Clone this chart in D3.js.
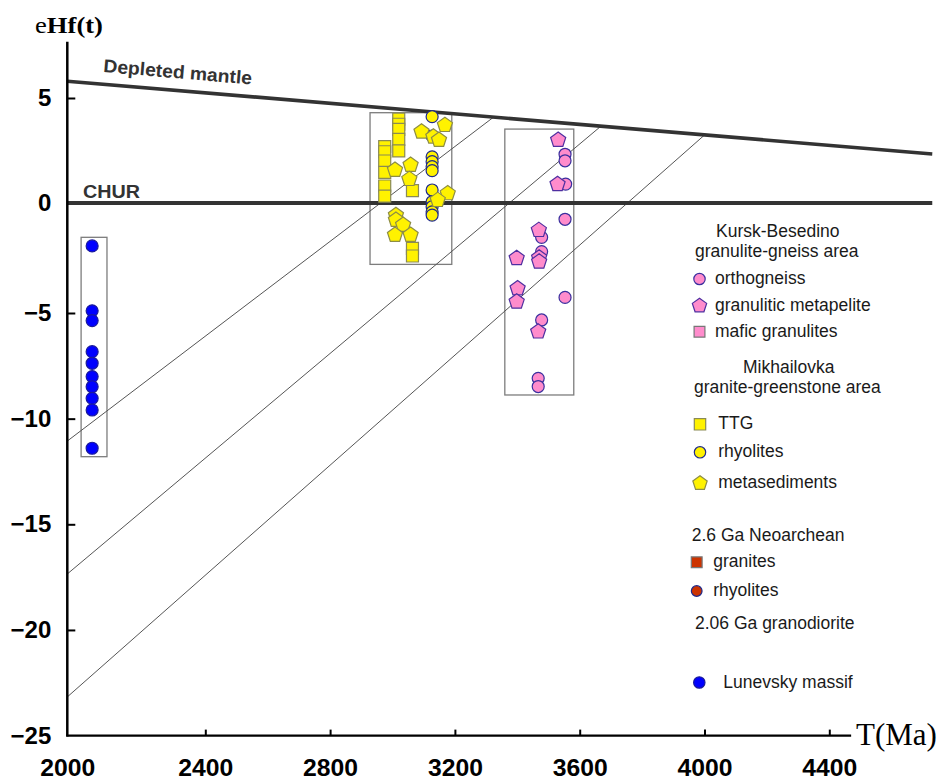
<!DOCTYPE html>
<html>
<head>
<meta charset="utf-8">
<script src="https://cdn.jsdelivr.net/npm/d3@7"></script>
<style>
  html, body { margin: 0; padding: 0; background: #fff; }
  svg { display: block; }
</style>
</head>
<body>
<svg id="chart" width="940" height="782"></svg>
<script>
// ---- Axis ticks ----
const xTicks = [2000, 2400, 2800, 3200, 3600, 4000, 4400];
const yTicks = [5, 0, -5, -10, -15, -20, -25];

// ---- Reference curves: [T (Ma), eHf(t)] ----
const depletedMantle = [[2000, 5.8], [4730, 2.33]];
const chur = [[2000, 0], [4730, 0]];
const crustalTrendA = [[2000, -11.06], [3325, 4.10]];
const crustalTrendB = [[2000, -17.35], [3669, 3.67]];
const crustalTrendC = [[2000, -23.17], [4001, 3.25]];

// ---- Range boxes: [T min, T max, eHf max, eHf min] ----
const lunevskyBox = [2040, 2115, -1.56, -11.8];
const mikhailovkaBox = [2928, 3190, 4.30, -2.79];
const kurskBox = [3360, 3581, 3.52, -8.88];

// ---- Samples: [T (Ma), eHf(t)] ----
const lunevsky = [
  [2072, -1.95], [2072, -4.90], [2072, -5.36], [2072, -6.83], [2072, -7.38],
  [2072, -8.01], [2072, -8.49], [2072, -9.04], [2072, -9.59], [2072, -11.40]
];
const ttg = [
  [3020, 3.99], [3020, 3.75], [3020, 3.51], [3020, 3.03], [3020, 2.48],
  [2975, 2.68], [2975, 2.44], [2975, 2.00], [2975, 1.46], [2975, 0.81], [2975, 0.33],
  [3064, 0.59], [3064, -2.06], [3064, -2.41]
];
const mikhRhyolites = [
  [3127, 4.11], [3127, 3.19], [3127, 2.20], [3127, 1.97], [3127, 1.73], [3127, 1.54],
  [3127, 0.62], [3127, 0.06], [3127, -0.17], [3127, -0.40], [3127, -0.55]
];
const metasediments = [
  [3168, 3.71], [3093, 3.40], [3131, 3.16], [3149, 3.00], [3008, 1.57], [3058, 1.81],
  [3054, 1.14], [3177, 0.46], [3145, 0.14], [3011, -0.55], [3011, -0.77], [3034, -1.00],
  [3008, -1.45], [3058, -1.45]
];
const orthogneiss = [
  [3553, 2.32], [3553, 2.01], [3555, 0.90], [3553, -0.74], [3478, -1.56],
  [3478, -2.21], [3553, -4.29], [3478, -5.33], [3467, -8.09], [3467, -8.48]
];
const metapelite = [
  [3531, 3.00], [3529, 0.90], [3469, -1.23], [3398, -2.51], [3470, -2.49],
  [3470, -2.67], [3401, -3.88], [3398, -4.49], [3467, -5.88]
];

// ---- Legend text ----
const legendKursk = ["Kursk-Besedino", "granulite-gneiss area"];
const legendKurskItems = [["orthogneiss", "orthogneiss"], ["metapelite", "granulitic metapelite"], ["mafic", "mafic granulites"]];
const legendMikh = ["Mikhailovka", "granite-greenstone area"];
const legendMikhItems = [["ttg", "TTG"], ["rhyolite", "rhyolites"], ["metased", "metasediments"]];
const legendNeo = "2.6 Ga Neoarchean";
const legendNeoItems = [["neoGranite", "granites"], ["neoRhyolite", "rhyolites"]];
const legendGranodiorite = "2.06 Ga granodiorite";
const legendLunevsky = [["lunevsky", "Lunevsky massif"]];

// ---- Marker styles ----
const PINK = "#ff8ccc", YELLOW = "#fff200", RED = "#cc3300", BLUE = "#0000ff";
const symbolPentagon = {
  draw(ctx, size) {
    const r = Math.sqrt(size / (2.5 * Math.sin(2 * Math.PI / 5)));
    for (let i = 0; i < 5; i++) {
      const a = -Math.PI / 2 + i * 2 * Math.PI / 5;
      const px = r * Math.cos(a), py = r * Math.sin(a);
      if (i === 0) ctx.moveTo(px, py); else ctx.lineTo(px, py);
    }
    ctx.closePath();
  }
};
const styles = {
  orthogneiss: { type: d3.symbolCircle, size: 113, fill: PINK, stroke: "#3b2f9e" },
  metapelite: { type: symbolPentagon, size: 150, fill: PINK, stroke: "#4f2fa0" },
  mafic: { type: d3.symbolSquare, size: 130, fill: PINK, stroke: "#777" },
  ttg: { type: d3.symbolSquare, size: 144, fill: YELLOW, stroke: "#8a8a55" },
  rhyolite: { type: d3.symbolCircle, size: 113, fill: YELLOW, stroke: "#1f2a8a" },
  metased: { type: symbolPentagon, size: 150, fill: YELLOW, stroke: "#8d8d45" },
  neoGranite: { type: d3.symbolSquare, size: 130, fill: RED, stroke: "#777" },
  neoRhyolite: { type: d3.symbolCircle, size: 100, fill: RED, stroke: "#1f2a8a" },
  lunevsky: { type: d3.symbolCircle, size: 113, fill: BLUE, stroke: "#1a1a9c" }
};

// ---- Scales (hand-drawn axes: uneven first segments) ----
const x = d3.scaleLinear().domain([2000, 2400, 4400]).range([67.3, 205.3, 829.3]);
const y = d3.scaleLinear().domain([5, 0, -5, -25]).range([98, 203, 313, 735.6]);

const svg = d3.select("#chart");
const line = d3.line().x(d => x(d[0])).y(d => y(d[1]));

// Range boxes
const boxes = svg.append("g");
[lunevskyBox, mikhailovkaBox, kurskBox].forEach(b => {
  boxes.append("rect")
    .attr("x", x(b[0])).attr("y", y(b[2]))
    .attr("width", x(b[1]) - x(b[0])).attr("height", y(b[3]) - y(b[2]))
    .attr("fill", "none").attr("stroke", "#7d7d7d").attr("stroke-width", 1.3);
});

// Crustal evolution trends
[crustalTrendA, crustalTrendB, crustalTrendC].forEach(t => {
  svg.append("path").attr("d", line(t))
    .attr("fill", "none").attr("stroke", "#555").attr("stroke-width", 1);
});

// Depleted mantle and CHUR
svg.append("path").attr("d", line(depletedMantle))
  .attr("fill", "none").attr("stroke", "#333").attr("stroke-width", 3.6);
svg.append("path").attr("d", line(chur))
  .attr("fill", "none").attr("stroke", "#333").attr("stroke-width", 4);

const dmAngle = Math.atan2(y(depletedMantle[1][1]) - y(depletedMantle[0][1]),
                           x(depletedMantle[1][0]) - x(depletedMantle[0][0])) * 180 / Math.PI;
svg.append("text")
  .attr("transform", `translate(103,72) rotate(${dmAngle})`)
  .attr("font-family", "Liberation Sans, Arial, sans-serif")
  .attr("font-weight", "bold").attr("font-size", 18.5).attr("fill", "#333")
  .attr("textLength", 149).attr("lengthAdjust", "spacingAndGlyphs")
  .text("Depleted mantle");
svg.append("text")
  .attr("x", 83).attr("y", 198)
  .attr("font-family", "Liberation Sans, Arial, sans-serif")
  .attr("font-weight", "bold").attr("font-size", 18).attr("fill", "#333")
  .attr("textLength", 57).attr("lengthAdjust", "spacingAndGlyphs")
  .text("CHUR");

// Axes
const xAxis = d3.axisBottom(x).tickValues(xTicks).tickSize(-6).tickSizeOuter(0)
  .tickPadding(24).tickFormat(d3.format("d"));
const gx = svg.append("g").attr("transform", `translate(0,${y(-25)})`).call(xAxis);
gx.select(".domain").remove();
gx.selectAll(".tick line").attr("stroke", "#000").attr("stroke-width", 2)
  .filter(d => d === 2000).remove();
gx.selectAll(".tick text").attr("font-family", "Liberation Sans, Arial, sans-serif")
  .attr("font-weight", "bold").attr("font-size", 23).attr("fill", "#000")
  .attr("textLength", 55).attr("lengthAdjust", "spacingAndGlyphs");

const yAxis = d3.axisLeft(y).tickValues(yTicks).tickSize(-8).tickSizeOuter(0).tickPadding(16);
const gy = svg.append("g").attr("transform", `translate(${x(2000)},0)`).call(yAxis);
gy.select(".domain").remove();
gy.selectAll(".tick line").attr("stroke", "#000").attr("stroke-width", 2)
  .filter(d => d === -25 || d === 0).remove();
gy.selectAll(".tick text").attr("font-family", "Liberation Sans, Arial, sans-serif")
  .attr("font-weight", "bold").attr("font-size", 24).attr("fill", "#000");

svg.append("line")
  .attr("x1", x(2000)).attr("x2", x(2000)).attr("y1", y(7.68)).attr("y2", y(-25) + 1)
  .attr("stroke", "#000").attr("stroke-width", 2.5);
svg.append("line")
  .attr("x1", x(2000) - 1).attr("x2", x(4470)).attr("y1", y(-25)).attr("y2", y(-25))
  .attr("stroke", "#000").attr("stroke-width", 2.2);

// Axis titles
const yTitle = svg.append("text").attr("x", 35).attr("y", 33)
  .attr("font-family", "Liberation Serif, Times New Roman, serif").attr("font-size", 23)
  .attr("fill", "#000").attr("textLength", 68).attr("lengthAdjust", "spacingAndGlyphs");
yTitle.append("tspan").text("e");
yTitle.append("tspan").attr("font-weight", "bold").text("Hf(t)");
svg.append("text").attr("x", 856).attr("y", 744.5)
  .attr("font-family", "Liberation Serif, Times New Roman, serif").attr("font-size", 31)
  .attr("fill", "#000").text("T(Ma)");

// Sample markers
function plot(data, key) {
  const s = styles[key];
  svg.append("g").selectAll("path").data(data).join("path")
    .attr("transform", d => `translate(${x(d[0])},${y(d[1])})`)
    .attr("d", d3.symbol().type(s.type).size(s.size)())
    .attr("fill", s.fill).attr("stroke", s.stroke).attr("stroke-width", 1.2);
}
plot(lunevsky, "lunevsky");
plot(mikhRhyolites, "rhyolite");
plot(ttg, "ttg");
plot(metasediments, "metased");
plot(orthogneiss, "orthogneiss");
plot(metapelite, "metapelite");

// Legend
const legend = svg.append("g")
  .attr("font-family", "Liberation Sans, Arial, sans-serif")
  .attr("font-size", 17.5).attr("fill", "#1a1a1a");
function legendText(tx, ty, str) {
  legend.append("text").attr("x", tx).attr("y", ty).text(str);
}
function legendItems(items, mx, tx, baselines) {
  items.forEach(([key, label], i) => {
    const s = styles[key];
    legend.append("path")
      .attr("transform", `translate(${mx},${baselines[i] - 5})`)
      .attr("d", d3.symbol().type(s.type).size(s.size * 0.9)())
      .attr("fill", s.fill).attr("stroke", s.stroke).attr("stroke-width", 1.2);
    legendText(tx, baselines[i], label);
  });
}
legendText(716, 237.3, legendKursk[0]);
legendText(695, 256.7, legendKursk[1]);
legendItems(legendKurskItems, 699.5, 715, [284, 310.7, 336.7]);
legendText(743, 373.3, legendMikh[0]);
legendText(694, 393.3, legendMikh[1]);
legendItems(legendMikhItems, 700, 718.3, [429.3, 457.3, 488.3]);
legendText(691.7, 540.7, legendNeo);
legendItems(legendNeoItems, 696.7, 713.3, [567.3, 596]);
legendText(695, 629.3, legendGranodiorite);
legendItems(legendLunevsky, 699.3, 723.3, [687.5]);
</script>
</body>
</html>
